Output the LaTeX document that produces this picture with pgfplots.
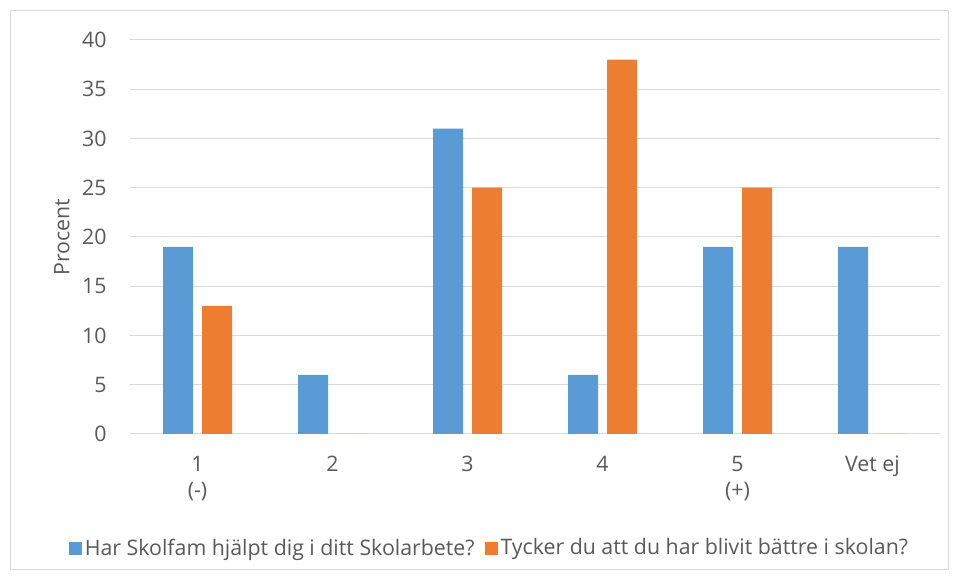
\documentclass[border=0pt]{standalone}
\usepackage{pgfplots}
\pgfplotsset{compat=1.18}
\usepackage{fontspec}
\setmainfont{Open Sans}
\definecolor{xlblue}{HTML}{5B9BD5}
\definecolor{xlorange}{HTML}{ED7D31}
\definecolor{gridgray}{HTML}{D9D9D9}
\definecolor{txtgray}{HTML}{595959}
\begin{document}
\begin{tikzpicture}
\path[use as bounding box] (0,0) rectangle (717.75pt,433.5pt);
\draw[gridgray, line width=0.75pt] (7.5pt,6pt) rectangle (711pt,425.25pt);
\begin{axis}[
    at={(97.5pt,108pt)}, anchor=south west,
    scale only axis,
    width=607.5pt, height=295.5pt,
    ymin=0, ymax=40, ytick={0,5,...,40},
    xmin=-0.5, xmax=5.5, xtick={0,...,5},
    xticklabels={{1\\(-)},2,3,4,{5\\(+)},Vet ej},
    ybar=6.75pt, bar width=22.5pt,
    axis line style={draw=none},
    major tick length=0pt,
    ymajorgrids,
    major grid style={gridgray, line width=0.75pt},
    /pgf/number format/assume math mode=true,
    tick label style={font=\fontsize{16}{19.5}\selectfont, text=txtgray},
    x tick label style={align=center, yshift=-13pt},
    y tick label style={xshift=-14pt},
    ylabel={Procent},
    ylabel style={font=\fontsize{16}{19.5}\selectfont, text=txtgray,
        at={(axis description cs:-0.084,0.5)}, anchor=center},
    legend style={at={(axis description cs:-0.080,-0.289)}, anchor=west,
        draw=none, fill=none, legend columns=2,
        font=\fontsize{16}{19.5}\selectfont, text=txtgray,
        /tikz/every even column/.append style={column sep=6pt}},
    legend image code/.code={\fill[#1,draw=none] (0pt,-5pt) rectangle (9.5pt,4.5pt);},
]
\addplot[fill=xlblue, draw=none] coordinates {(0,19)(1,6)(2,31)(3,6)(4,19)(5,19)};
\addlegendentry{Har Skolfam hjälpt dig i ditt Skolarbete?}
\addplot[fill=xlorange, draw=none] coordinates {(0,13)(1,0)(2,25)(3,38)(4,25)(5,0)};
\addlegendentry{Tycker du att du har blivit bättre i skolan?}
\end{axis}
\end{tikzpicture}
\end{document}
